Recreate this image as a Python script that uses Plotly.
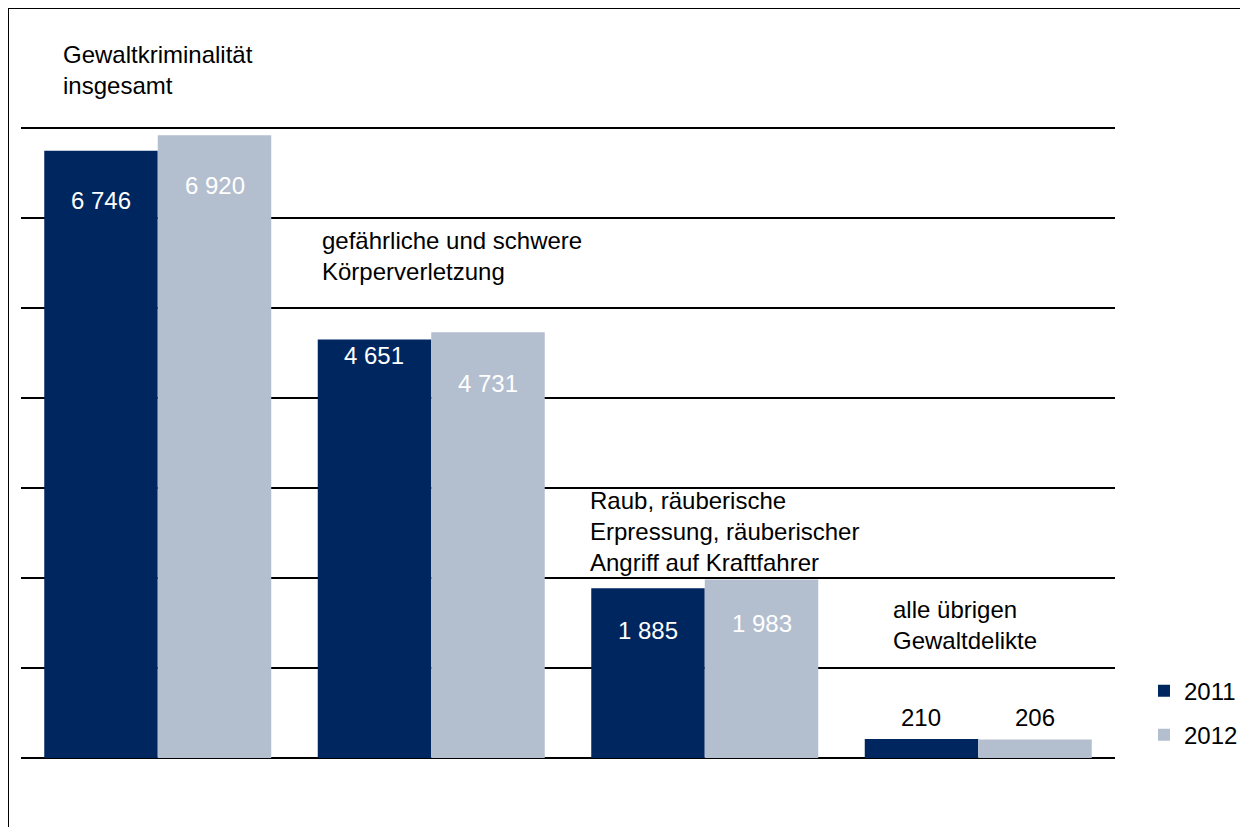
import plotly.graph_objects as go

categories = ["Gewaltkriminalität insgesamt", "gefährliche und schwere Körperverletzung",
              "Raub, räuberische Erpressung, räuberischer Angriff auf Kraftfahrer",
              "alle übrigen Gewaltdelikte"]
cat_labels = ["Gewaltkriminalität<br>insgesamt",
              "gefährliche und schwere<br>Körperverletzung",
              "Raub, räuberische<br>Erpressung, räuberischer<br>Angriff auf Kraftfahrer",
              "alle übrigen<br>Gewaltdelikte"]
values_2011 = [6746, 4651, 1885, 210]
values_2012 = [6920, 4731, 1983, 206]
series_names = ["2011", "2012"]

# layout/style parameters
colors = ["#002660", "#B3BECF"]
label_shift_2011 = [-50, -16, -42, 22]   # pixel shift of value labels relative to bar top
label_shift_2012 = [-50, -51, -44, 22]
label_colors = ["white", "white", "white", "black"]
cat_label_xshift = [-97, -111, -117, -87]
cat_label_ypaper = [1.0767, 0.7856, 0.3537, 0.2081]

FONT = "Liberation Sans, Arial, sans-serif"
FS = 24

def fmt(v):
    return f"{v:,}".replace(",", " ")

fig = go.Figure()
fig.add_trace(go.Bar(x=categories, y=values_2011, name=series_names[0],
                     marker=dict(color=colors[0], line=dict(width=0)), legendgroup="a"))
fig.add_trace(go.Bar(x=categories, y=values_2012, name=series_names[1],
                     marker=dict(color=colors[1], line=dict(width=0)), legendgroup="b"))

bar_half = 1094 / 4 * 0.83 / 4
annotations = []
for i, c in enumerate(categories):
    for vals, shifts, dx in ((values_2011, label_shift_2011, -bar_half),
                             (values_2012, label_shift_2012, bar_half)):
        annotations.append(dict(x=c, y=vals[i], xref="x", yref="y", text=fmt(vals[i]),
                                showarrow=False, xshift=dx, yshift=shifts[i],
                                font=dict(family=FONT, size=FS, color=label_colors[i])))
    annotations.append(dict(x=c, y=cat_label_ypaper[i], xref="x", yref="paper",
                            text=cat_labels[i],
                            showarrow=False, xanchor="left", yanchor="middle", align="left",
                            xshift=cat_label_xshift[i],
                            font=dict(family=FONT, size=FS, color="black")))

fig.update_layout(
    width=1240, height=819,
    margin=dict(l=13, r=133, t=111, b=69, pad=0, autoexpand=False),
    paper_bgcolor="white", plot_bgcolor="white",
    barmode="group", bargap=0.17, bargroupgap=0,
    font=dict(family=FONT, size=FS, color="black"),
    annotations=annotations,
    showlegend=True,
    legend=dict(x=1.0265, y=0.14, xanchor="left", yanchor="top",
                font=dict(family=FONT, size=FS), traceorder="grouped",
                tracegroupgap=10, itemwidth=30, bgcolor="rgba(0,0,0,0)"),
    shapes=[dict(type="rect", xref="paper", yref="paper",
                 x0=(8 - 21) / 1094, x1=1.3, y0=-0.3, y1=(758 - 8) / 639,
                 line=dict(color="black", width=2), layer="below")],
)
fig.update_xaxes(showticklabels=False, showgrid=False, zeroline=False, showline=False,
                 ticks="")
fig.update_yaxes(range=[0, 7100], dtick=1000, showticklabels=False, showgrid=True,
                 gridcolor="black", gridwidth=1.5, zeroline=True, zerolinecolor="black",
                 zerolinewidth=2, showline=False, ticks="")

fig.write_html("out.html")
